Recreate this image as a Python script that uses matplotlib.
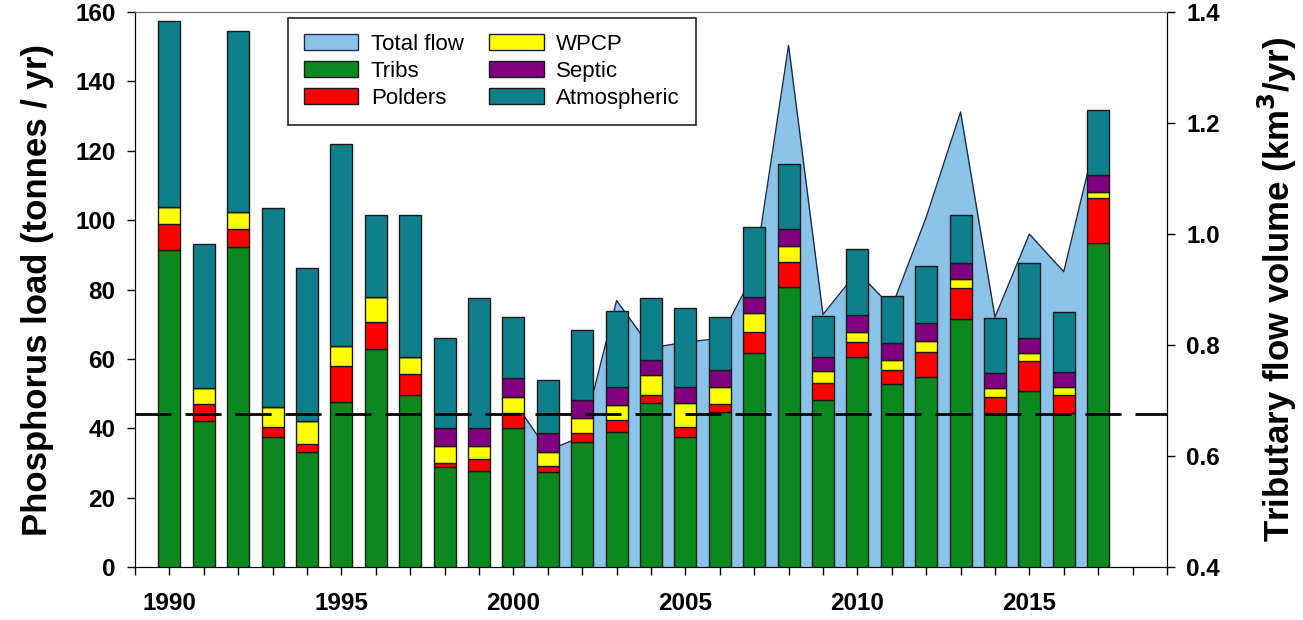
import numpy as np
import matplotlib
matplotlib.use('Agg')
import matplotlib.pyplot as plt
from matplotlib.patches import Patch
from matplotlib.ticker import MultipleLocator

plt.rcParams['font.family'] = ['Liberation Sans', 'DejaVu Sans']
plt.rcParams['lines.scale_dashes'] = False

# ---------------------------------------------------------------------------
# Annual phosphorus loads by source (tonnes / yr)
# ---------------------------------------------------------------------------
years = np.arange(1990, 2018)

tribs = [91.5, 42.2, 92.3, 37.5, 33.2, 47.7, 62.8, 49.6, 28.9, 27.8,
         40.0, 27.5, 36.1, 39.0, 47.2, 37.6, 44.8, 61.6, 80.8, 48.1,
         60.6, 52.8, 54.9, 71.4, 44.5, 50.8, 44.5, 93.5]
polders = [7.4, 4.8, 5.2, 2.9, 2.3, 10.3, 7.9, 6.0, 1.0, 3.3,
           4.3, 1.7, 2.4, 3.4, 2.4, 2.8, 2.2, 6.2, 7.2, 4.9,
           4.4, 4.0, 7.2, 8.9, 4.4, 8.6, 5.1, 12.8]
wpcp = [5.0, 4.6, 4.9, 5.7, 6.7, 5.7, 7.2, 5.0, 5.1, 3.9,
        4.8, 4.0, 4.4, 4.3, 5.8, 6.8, 5.0, 5.3, 4.5, 3.6,
        2.8, 2.9, 3.2, 2.6, 2.6, 2.4, 2.2, 1.9]
septic = [0.0, 0.0, 0.0, 0.0, 0.0, 0.0, 0.0, 0.0, 5.0, 5.0,
          5.3, 5.3, 5.2, 5.3, 4.3, 4.6, 4.8, 4.7, 4.9, 4.0,
          4.8, 4.8, 5.0, 4.7, 4.3, 4.1, 4.5, 4.8]
atmospheric = [53.5, 41.5, 52.1, 57.4, 44.0, 58.2, 23.6, 40.9, 26.0, 37.6,
               17.8, 15.4, 20.2, 21.8, 17.9, 22.8, 15.4, 20.1, 18.7, 11.8,
               19.1, 13.6, 16.6, 13.9, 15.9, 21.7, 17.2, 18.8]

# tributary flow volume (km3 / yr)
flow_years = np.arange(2000, 2018)
flow = [0.70, 0.61, 0.635, 0.88, 0.795, 0.805, 0.812, 0.93, 1.34, 0.855,
        0.932, 0.868, 1.03, 1.22, 0.85, 1.00, 0.932, 1.19]

target_load = 44

sources = [
    ('Tribs', tribs, '#0a8a1e'),
    ('Polders', polders, '#ff0000'),
    ('WPCP', wpcp, '#ffff00'),
    ('Septic', septic, '#800080'),
    ('Atmospheric', atmospheric, '#0f7f8c'),
]
FLOW_COLOR = '#8cc3e8'
EDGE = '#1a1a1a'

fig = plt.figure(figsize=(13.03, 6.2), dpi=100)
ax = fig.add_axes([0.1036, 0.0855, 0.792, 0.895])
ax2 = ax.twinx()

# ── flow area on the secondary axis, behind the bars ────────────────────────
ax2.fill_between(flow_years, flow, 0.4, color=FLOW_COLOR, lw=0)
ax2.plot(flow_years, flow, color='#1f2d4a', lw=1.0)
ax2.set_ylim(0.4, 1.4)
ax2.yaxis.set_major_locator(MultipleLocator(0.2))
ax2.yaxis.set_major_formatter(plt.FormatStrFormatter('%.1f'))
ax2.set_ylabel('Tributary flow volume (km$^\\mathbf{3}$/yr)', fontsize=25,
               fontweight='bold', labelpad=26)

ax.set_zorder(ax2.get_zorder() + 1)
ax.patch.set_visible(False)

# ── stacked load bars ───────────────────────────────────────────────────────
bottom = np.zeros(len(years))
for name, vals, col in sources:
    ax.bar(years, vals, width=0.64, bottom=bottom, color=col,
           edgecolor=EDGE, linewidth=1.0)
    bottom += np.array(vals)

ax.axhline(target_load, color='black', lw=2.0, ls=(0, (26, 10)), zorder=5)

ax.set_xlim(1989, 2019)
ax.set_ylim(0, 160)
ax.xaxis.set_major_locator(MultipleLocator(5))
ax.xaxis.set_minor_locator(MultipleLocator(1))
ax.yaxis.set_major_locator(MultipleLocator(20))
ax.set_ylabel('Phosphorus load (tonnes / yr)', fontsize=25,
              fontweight='bold', labelpad=15)

for a in (ax, ax2):
    a.tick_params(which='both', direction='out', length=6, width=1,
                  labelsize=17.5, pad=8)
    for lab in a.get_xticklabels() + a.get_yticklabels():
        lab.set_fontweight('bold')
ax.tick_params(axis='x', which='major', pad=12)
ax.spines['top'].set_color('#707070')
ax2.spines['top'].set_color('#707070')

handles = [Patch(facecolor=FLOW_COLOR, edgecolor='#1f2d4a', lw=1.0)]
handles += [Patch(facecolor=c, edgecolor=EDGE, lw=1.0) for _, _, c in sources]
labels = ['Total flow'] + [n for n, _, _ in sources]
leg = ax.legend(handles, labels, ncol=2, loc='upper left',
                bbox_to_anchor=(288 / 1303, 1 - 18 / 620),
                bbox_transform=fig.transFigure, borderaxespad=0,
                fontsize=16, handlelength=2.45, handleheight=0.75,
                handletextpad=0.55, labelspacing=0.26, columnspacing=1.15,
                borderpad=0.72, fancybox=False, framealpha=1,
                edgecolor='#222222')
leg.get_frame().set_linewidth(1.2)

plt.savefig('out.png', dpi=100)
